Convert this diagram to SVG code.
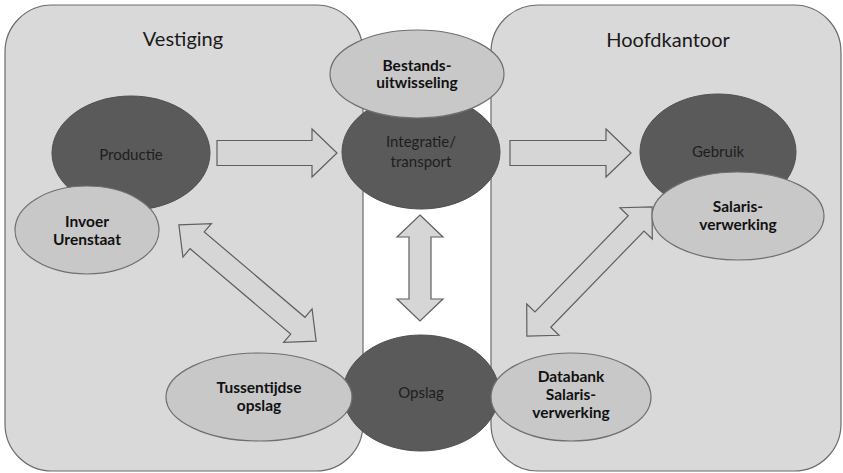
<svg xmlns="http://www.w3.org/2000/svg" width="843" height="473" viewBox="0 0 843 473">
<style>
.panel{fill:#d9d9d9;stroke:#6b6b6b;stroke-width:1.2}
.dark{fill:#5a5a5a;stroke:#505050;stroke-width:1}
.light{fill:#c8c8c8;stroke:#6f6f6f;stroke-width:1.2}
.arrow{fill:#d6d6d6;stroke:#5f5f5f;stroke-width:1.2;stroke-linejoin:miter}
.title{font-family:Lato,"Liberation Sans",sans-serif;font-size:20px;fill:#1a1a1a;text-anchor:middle}
.dl{font-family:Lato,"Liberation Sans",sans-serif;font-size:15px;fill:#1e1e1e;text-anchor:middle}
.bl{font-family:Lato,"Liberation Sans",sans-serif;font-size:15.5px;font-weight:bold;fill:#111;text-anchor:middle}
</style>
<rect fill="#ffffff" x="0" y="0" width="843" height="473"/>
<g id="vestiging">
<rect class="panel" x="5" y="5" width="358" height="466" rx="47" ry="47"/>
<text class="title" x="183" y="46">Vestiging</text>
</g>
<g id="hoofdkantoor">
<rect class="panel" x="491" y="5" width="350" height="466" rx="47" ry="47"/>
<text class="title" x="668" y="47">Hoofdkantoor</text>
</g>
<g id="connectors">
<polygon class="arrow" points="217,140.5 312,140.5 312,129 337,153 312,177 312,165.5 217,165.5"/>
<polygon class="arrow" points="510,140.5 606,140.5 606,129 631,153 606,177 606,165.5 510,165.5"/>
<polygon class="arrow" points="420,215 443,237 431,237 431,299 443,299 420,321 397,299 409,299 409,237 397,237"/>
<polygon class="arrow" transform="translate(247.5,283) rotate(40.3)" points="-90,0 -66,-22 -66,-11 66,-11 66,-22 90,0 66,22 66,11 -66,11 -66,22"/>
<polygon class="arrow" transform="translate(589.5,271.5) rotate(-45.9)" points="-90,0 -67,-22.5 -67,-11 67,-11 67,-22.5 90,0 67,22.5 67,11 -67,11 -67,22.5"/>
</g>
<g id="productie">
<ellipse class="dark" cx="131" cy="153" rx="79" ry="57"/>
<text class="dl" x="131" y="160">Productie</text>
</g>
<g id="invoer-urenstaat">
<ellipse class="light" cx="87" cy="230" rx="72" ry="44"/>
<text class="bl" x="87" y="227">Invoer</text>
<text class="bl" x="87" y="245">Urenstaat</text>
</g>
<g id="integratie-transport">
<ellipse class="dark" cx="421" cy="152" rx="79" ry="57"/>
<text class="dl" x="421" y="147">Integratie/</text>
<text class="dl" x="421" y="167">transport</text>
</g>
<g id="bestandsuitwisseling">
<ellipse class="light" cx="417" cy="74" rx="87" ry="44"/>
<text class="bl" x="417" y="71">Bestands-</text>
<text class="bl" x="417" y="88">uitwisseling</text>
</g>
<g id="gebruik">
<ellipse class="dark" cx="718" cy="152" rx="78" ry="58"/>
<text class="dl" x="718" y="157">Gebruik</text>
</g>
<g id="salarisverwerking">
<ellipse class="light" cx="738" cy="216" rx="86" ry="44"/>
<text class="bl" x="738" y="212">Salaris-</text>
<text class="bl" x="738" y="230">verwerking</text>
</g>
<g id="opslag">
<ellipse class="dark" cx="421" cy="393" rx="78" ry="58"/>
<text class="dl" x="421" y="398">Opslag</text>
</g>
<g id="tussentijdse-opslag">
<ellipse class="light" cx="259" cy="397" rx="93" ry="44"/>
<text class="bl" x="259" y="393">Tussentijdse</text>
<text class="bl" x="259" y="411">opslag</text>
</g>
<g id="databank-salarisverwerking">
<ellipse class="light" cx="571" cy="397" rx="80" ry="44"/>
<text class="bl" x="571" y="382">Databank</text>
<text class="bl" x="571" y="400">Salaris-</text>
<text class="bl" x="571" y="418">verwerking</text>
</g>
</svg>
